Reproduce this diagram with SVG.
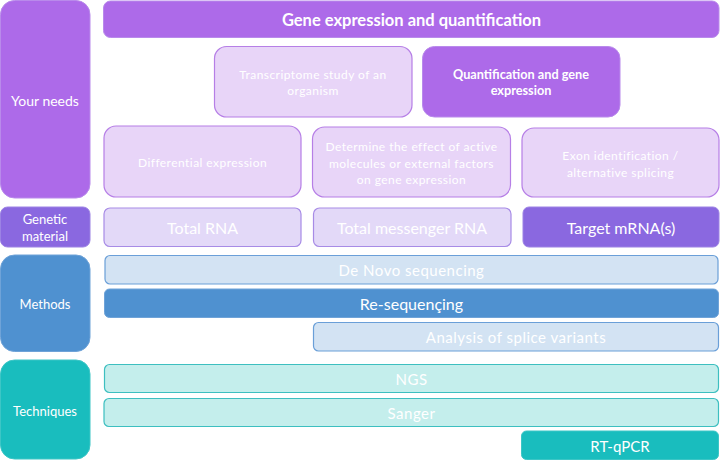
<svg xmlns="http://www.w3.org/2000/svg" width="720" height="467" viewBox="0 0 720 467">
<style>
text{font-family:Lato,"Open Sans","Liberation Sans",sans-serif;fill:#fff;text-anchor:middle;dominant-baseline:central}
.pd{fill:#AD6AE9;stroke:#B98AEB;stroke-width:1}
.pl{fill:#E8D5F8;stroke:#B67FE6;stroke-width:1.2}
.gd{fill:#8A68E0;stroke:#9C82E4;stroke-width:1}
.gl{fill:#E3D9F8;stroke:#A78BE6;stroke-width:1.2}
.md{fill:#4F91D0;stroke:#6FA3D8;stroke-width:1}
.ml{fill:#D3E3F3;stroke:#6A9FD8;stroke-width:1.2}
.td{fill:#19BDBE;stroke:#3CC6C6;stroke-width:1}
.tl{fill:#C4EEEC;stroke:#3DBFC0;stroke-width:1.2}
.sm{font-size:12px;letter-spacing:0.45px}
.lab{font-size:13px}
.big{font-size:16px}
.bar{font-size:15px;letter-spacing:0.5px}
</style>
<g id="your-needs"><rect class="pd" x="0.5" y="0.5" width="89.5" height="197.5" rx="14"/><text font-size="14" x="45" y="100">Your needs</text></g>
<g id="genetic-material"><rect class="gd" x="0.5" y="207" width="89.5" height="40" rx="7"/><text class="lab" x="45" y="219">Genetic</text><text class="lab" x="45" y="236">material</text></g>
<g id="methods"><rect class="md" x="0.5" y="255" width="89.5" height="96.5" rx="14"/><text class="lab" x="45" y="304">Methods</text></g>
<g id="techniques"><rect class="td" x="0.5" y="360" width="89.5" height="99" rx="14"/><text class="lab" x="45" y="410.5">Techniques</text></g>

<g id="title"><rect class="pd" x="103.5" y="1" width="615.5" height="36.5" rx="7"/><text font-size="16.5" font-weight="bold" x="411.5" y="20">Gene expression and quantification</text></g>
<g id="transcriptome"><rect class="pl" x="214.5" y="46.5" width="197.5" height="70.5" rx="12"/><text class="sm" x="313" y="74">Transcriptome study of an</text><text class="sm" x="313" y="90">organism</text></g>
<g id="quantification"><rect class="pd" x="422.5" y="46.5" width="197.5" height="70.5" rx="12"/><text font-size="12.7" font-weight="bold" x="521" y="74">Quantification and gene</text><text font-size="12.7" font-weight="bold" x="521" y="90">expression</text></g>
<g id="differential"><rect class="pl" x="104" y="126" width="197" height="71" rx="12"/><text class="sm" x="202.5" y="162">Differential expression</text></g>
<g id="determine"><rect class="pl" x="312.5" y="127" width="198" height="70" rx="12"/><text class="sm" x="411.5" y="146">Determine the effect of active</text><text class="sm" x="411.5" y="163">molecules or external factors</text><text class="sm" x="411.5" y="179">on gene expression</text></g>
<g id="exon"><rect class="pl" x="522" y="128" width="197" height="69" rx="12"/><text class="sm" x="620.5" y="155">Exon identification /</text><text class="sm" x="620.5" y="172">alternative splicing</text></g>

<g id="total-rna"><rect class="gl" x="104" y="208" width="197" height="38.5" rx="6"/><text class="big" x="202.5" y="227">Total RNA</text></g>
<g id="total-mrna"><rect class="gl" x="313.5" y="208" width="197.5" height="38.5" rx="6"/><text class="big" x="412" y="227">Total messenger RNA</text></g>
<g id="target-mrna"><rect class="gd" x="523" y="207" width="196" height="40" rx="6"/><text class="big" x="621" y="227">Target mRNA(s)</text></g>

<g id="de-novo"><rect class="ml" x="105" y="255.5" width="613" height="28.5" rx="5"/><text class="bar" x="411.5" y="270">De Novo sequencing</text></g>
<g id="re-seq"><rect class="md" x="104.5" y="289" width="614" height="28.5" rx="5"/><text class="big" x="411.5" y="303.5">Re-sequençing</text></g>
<g id="splice"><rect class="ml" x="313.5" y="322.5" width="405" height="28.5" rx="5"/><text class="bar" x="516" y="337">Analysis of splice variants</text></g>

<g id="ngs"><rect class="tl" x="104.5" y="364.5" width="614" height="28" rx="5"/><text class="bar" x="411.5" y="379">NGS</text></g>
<g id="sanger"><rect class="tl" x="104" y="398.5" width="614.5" height="28" rx="5"/><text class="bar" x="411.5" y="412.5">Sanger</text></g>
<g id="rt-qpcr"><rect class="td" x="521.5" y="431" width="197" height="28.5" rx="5"/><text font-size="15" x="620" y="446">RT-qPCR</text></g>
<g id="connectors"/>
</svg>
